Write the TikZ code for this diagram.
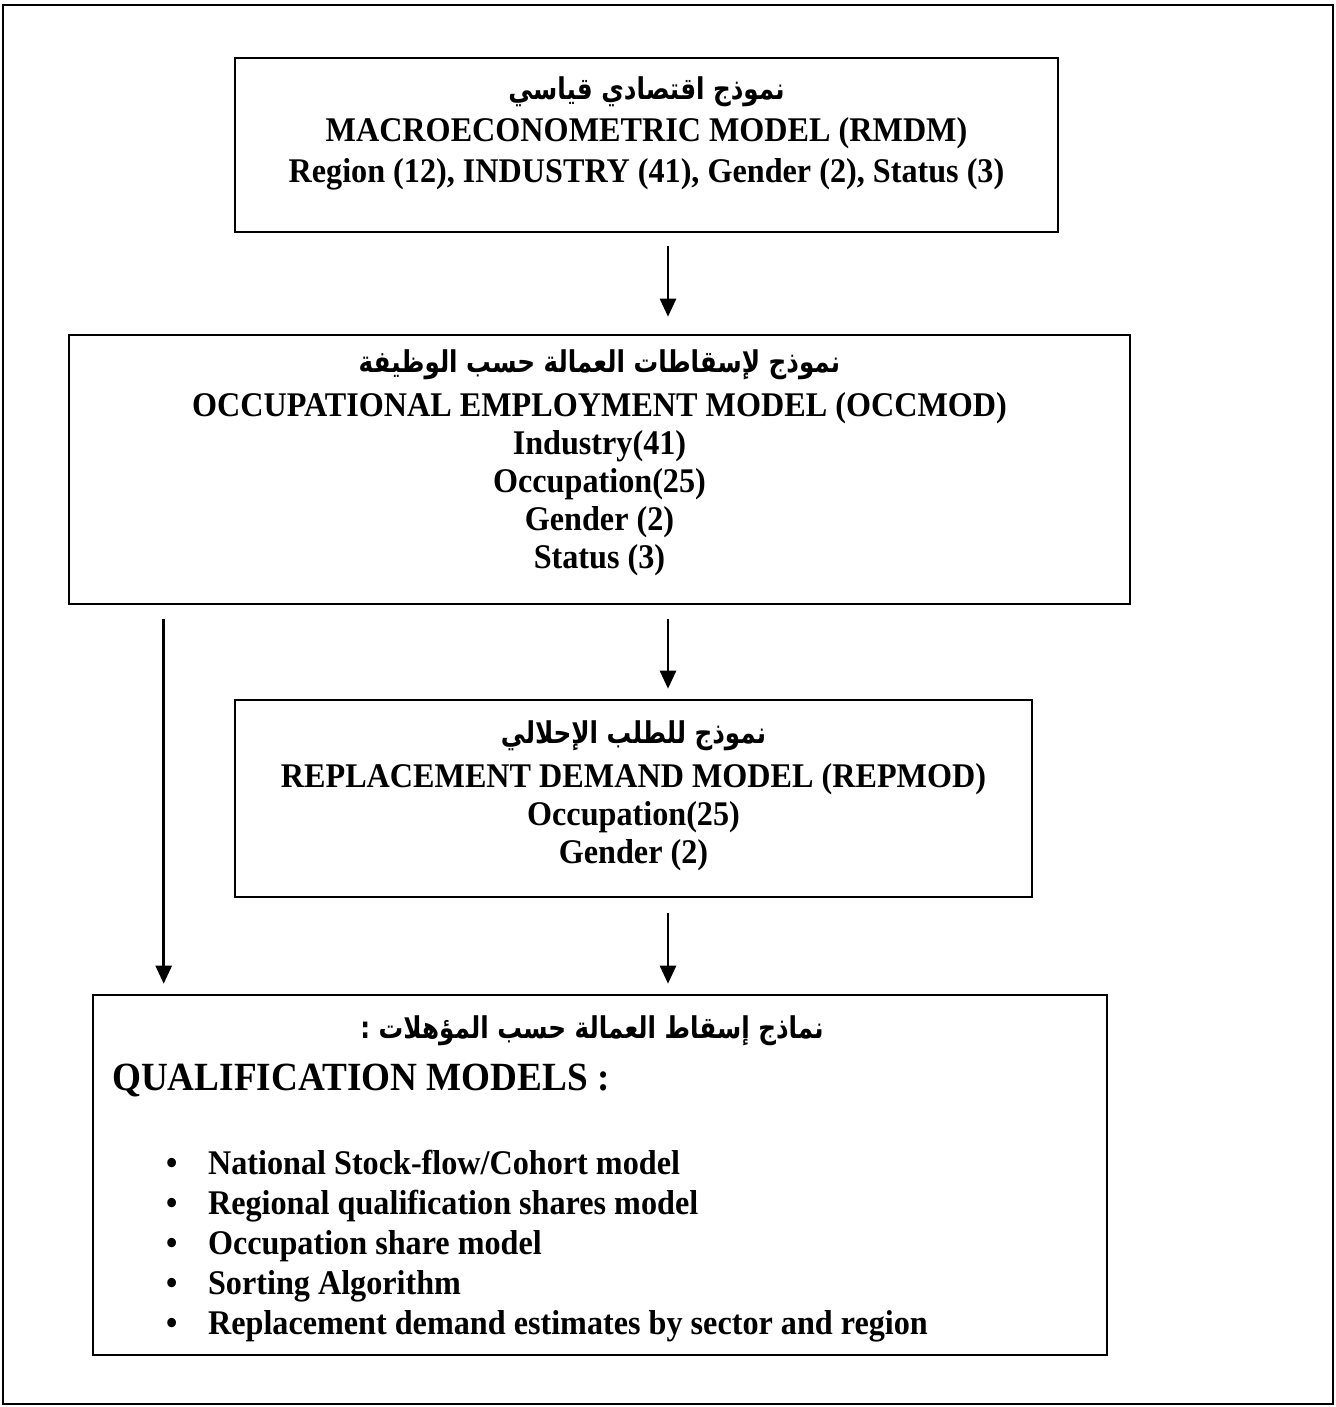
\documentclass[tikz,border=0pt]{standalone}
\usepackage{fontspec}
\setmainfont{Liberation Serif}[FakeStretch=0.93]
\newfontfamily\arabicfont[Script=Arabic, FakeStretch=0.82]{DejaVu Sans}
\TeXXeTstate=1
\usetikzlibrary{arrows.meta, positioning}

\newcommand{\artitle}[1]{{\arabicfont\fontsize{15}{17}\selectfont\beginR #1\endR}}

\begin{document}
\begin{tikzpicture}[
    x=0.5pt, y=-0.5pt,
    model/.style={rectangle, draw, line width=1.3pt, inner sep=0pt},
    label/.style={align=center, inner sep=0pt, font=\fontsize{17.3}{19}\selectfont\bfseries},
    arrow/.style={-{Triangle[length=9pt, width=8pt]}, line width=1.3pt}
]
\useasboundingbox (0,0) rectangle (1336,1407);

% Outer frame
\draw[line width=1.3pt] (3,5) rectangle (1333,1404);

% Model boxes
\node[model, minimum width=411.5pt, minimum height=87pt] (macro) at (646.5,145) {};
\node[model, minimum width=530.5pt, minimum height=134.5pt] (occ) at (599.5,469.5) {};
\node[model, minimum width=398.5pt, minimum height=98.5pt] (rep) at (633.5,798.5) {};
\node[model, minimum width=507pt, minimum height=180pt] (qual) at (600,1175) {};

% Box texts
\node[label, below=10pt of macro.north] (macrotext) {\artitle{نموذج اقتصادي قياسي}\\[2pt]
    MACROECONOMETRIC MODEL (RMDM)\\[1.5pt]
    Region (12), INDUSTRY (41), Gender (2), Status (3)};

\node[label, below=8pt of occ.north] (occtext) {\artitle{نموذج لإسقاطات العمالة حسب الوظيفة}\\[3pt]
    OCCUPATIONAL EMPLOYMENT MODEL (OCCMOD)\\
    Industry(41)\\ Occupation(25)\\ Gender (2)\\ Status (3)};

\node[label, below=11pt of rep.north] (reptext) {\artitle{نموذج للطلب الإحلالي}\\[3pt]
    REPLACEMENT DEMAND MODEL (REPMOD)\\
    Occupation(25)\\ Gender (2)};

\node[label, below=11pt of qual.north, xshift=-4pt] (qualar) {\artitle{نماذج إسقاط العمالة حسب المؤهلات :}};
\node[label, anchor=north west, font=\fontsize{20}{22}\selectfont\bfseries]
    (qualtitle) at ([xshift=10pt, yshift=-35pt]qual.north west) {QUALIFICATION MODELS :};
\node[label, align=left, anchor=north west, font=\fontsize{17.3}{20}\selectfont\bfseries]
    (quallist) at ([xshift=37pt, yshift=-78pt]qual.north west) {%
    \makebox[21pt][l]{\textbullet}National Stock-flow/Cohort model\\
    \makebox[21pt][l]{\textbullet}Regional qualification shares model\\
    \makebox[21pt][l]{\textbullet}Occupation share model\\
    \makebox[21pt][l]{\textbullet}Sorting Algorithm\\
    \makebox[21pt][l]{\textbullet}Replacement demand estimates by sector and region};

% Arrows
\draw[arrow] ([xshift=10.75pt, yshift=-6.5pt]macro.south) coordinate (a1)
    -- ([yshift=8.5pt]a1 |- occ.north);
\draw[arrow] ([xshift=17.25pt, yshift=5pt]rep.north) coordinate (a2)
    ([yshift=-7pt]a2 |- occ.south) -- (a2);
\draw[arrow] ([xshift=17.25pt, yshift=-7.5pt]rep.south) coordinate (a3)
    -- ([yshift=5pt]a3 |- qual.north);
\draw[arrow] ([xshift=48pt, yshift=-7pt]occ.south west) coordinate (a4)
    -- ([yshift=5pt]a4 |- qual.north);

\end{tikzpicture}
\end{document}
